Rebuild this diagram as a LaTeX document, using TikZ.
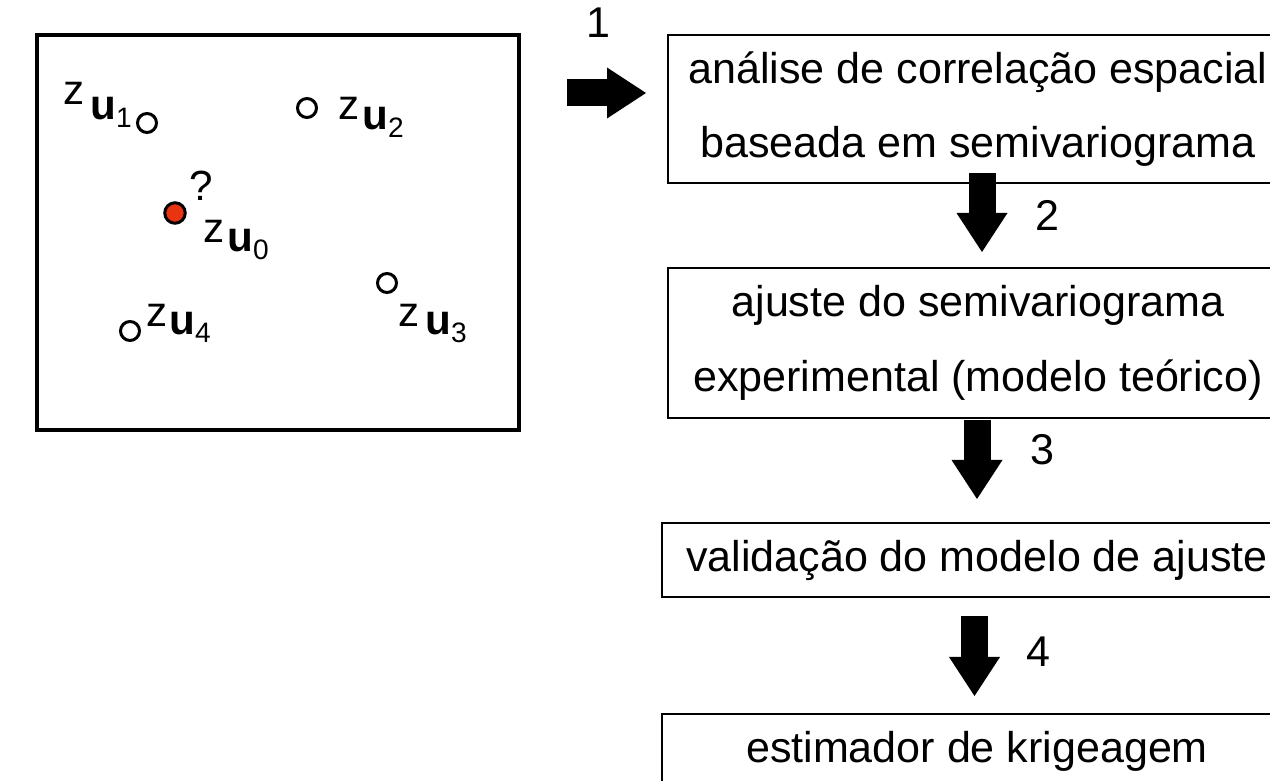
\documentclass[tikz,border=0pt]{standalone}
\usepackage{fontspec}
\setmainfont{Liberation Sans}
\usepackage{tikz}
\usetikzlibrary{positioning,arrows.meta,calc}
\definecolor{ptred}{RGB}{232,52,16}
\newcommand{\zlab}[3]{\raisebox{#1}{z}\hspace{#2}\textbf{u}\raisebox{-0.15cm}{\fontsize{16}{16}\selectfont #3}}

\begin{document}
\begin{tikzpicture}[every node/.style={font=\fontsize{24.5}{42.5}\selectfont},
  stepbox/.style={draw, line width=0.04cm, minimum width=12.4cm, align=center, inner sep=0pt},
  pt/.style={circle, draw, line width=0.06cm, minimum size=0.38cm, inner sep=0pt},
  zl/.style={anchor=base west, inner sep=0pt, font=\fontsize{24}{24}\selectfont},
  fat/.style={line width=0.54cm, -{Triangle[length=0.78cm,width=1.02cm,line width=0pt]}}]
\useasboundingbox (0,0) rectangle (25.4,15.62);
% sample field
\node[draw, line width=0.08cm, minimum width=9.64cm, minimum height=7.9cm] (field) at (5.56,10.97) {};
\node[pt] (u1) at (2.94,13.16) {};
\node[pt] (u2) at (6.14,13.46) {};
\node[pt, fill=ptred, minimum size=0.41cm] (u0) at (3.5,11.36) {};
\node[pt] (u3) at (7.74,9.96) {};
\node[pt] (u4) at (2.6,9.0) {};
\node[zl] (lu1) at (1.26,13.22) {\zlab{0.3cm}{0.12cm}{1}};
\node[zl] (lu2) at (6.76,13.02) {\zlab{0.2cm}{0.06cm}{2}};
\node[zl] (lu0) at (4.06,10.58) {\zlab{0.18cm}{0.06cm}{0}};
\node[zl] (lu3) at (7.96,8.92) {\zlab{0.16cm}{0.12cm}{3}};
\node[zl] (lu4) at (2.92,8.92) {\zlab{0.16cm}{0.04cm}{4}};
\node[zl] (q) at (3.78,11.6) {?};
% steps
\node[stepbox, minimum height=2.96cm] (b1) at (19.56,13.44) {análise de correlação espacial\\baseada em semivariograma};
\node[stepbox, minimum height=3.0cm] (b2) at (19.56,8.76) {ajuste do semivariograma\\experimental (modelo teórico)};
\node[stepbox, minimum width=12.6cm, minimum height=1.48cm] (b3) at (19.54,4.42) {validação do modelo de ajuste};
\node[stepbox, minimum width=12.6cm, minimum height=1.48cm] (b4) at (19.54,0.6) {estimador de krigeagem};
% arrows
\coordinate (a1s) at (11.34,13.76); \coordinate (a1e) at (12.92,13.76);
\coordinate (a2s) at (19.64,12.16); \coordinate (a2e) at (19.64,10.58);
\coordinate (a3s) at (19.54,7.22);  \coordinate (a3e) at (19.54,5.64);
\coordinate (a4s) at (19.49,3.30);  \coordinate (a4e) at (19.49,1.70);
\draw[fat] (a1s) -- (a1e);
\draw[fat] (a2s) -- (a2e);
\draw[fat] (a3s) -- (a3e);
\draw[fat] (a4s) -- (a4e);
\node (n1) at (11.96,15.16) {1};
\node (n2) at (20.94,11.32) {2};
\node (n3) at (20.84,6.62) {3};
\node (n4) at (20.76,2.58) {4};
\end{tikzpicture}
\end{document}
